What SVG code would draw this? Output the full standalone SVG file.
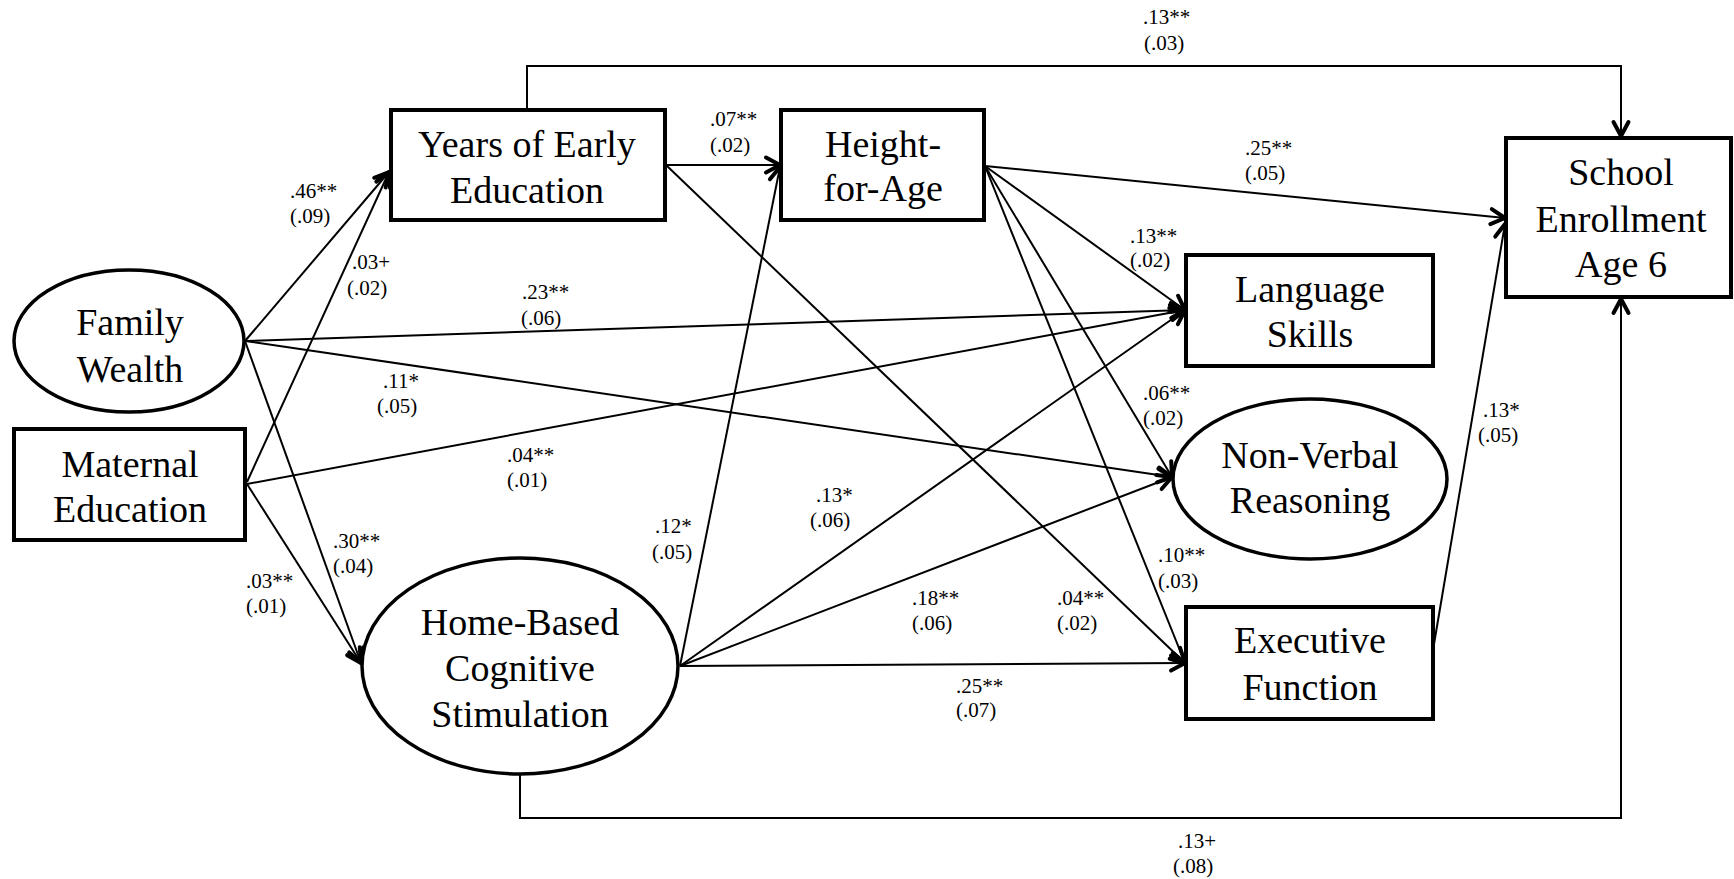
<svg xmlns="http://www.w3.org/2000/svg" width="1734" height="879" viewBox="0 0 1734 879">
<defs>
<marker id="arr" markerWidth="20" markerHeight="20" refX="16" refY="9" orient="auto" markerUnits="userSpaceOnUse" overflow="visible">
<path d="M2,1.5 L16,9 L2,16.5" fill="none" stroke="#000" stroke-width="4" stroke-linecap="round" stroke-linejoin="round"/>
</marker>
</defs>
<style>
.box{fill:#fff;stroke:#000;stroke-width:4}
.ell{fill:#fff;stroke:#000;stroke-width:3.5}
.nt{font-family:"Liberation Serif","Times New Roman",serif;font-size:38px;fill:#000;text-anchor:middle}
.lb{font-family:"Liberation Serif","Times New Roman",serif;font-size:21px;fill:#000}
.cn{fill:none;stroke:#000;stroke-width:2;marker-end:url(#arr)}
</style>
<rect x="0" y="0" width="1734" height="879" fill="#fff"/>
<g id="connectors">
<path class="cn" d="M527,110 V66 H1621 V136"/>
<path class="cn" d="M245,341 L389,172"/>
<path class="cn" d="M247,482 L389,172"/>
<path class="cn" d="M245,341 L1185,310"/>
<path class="cn" d="M245,341 L1172,477"/>
<path class="cn" d="M245,341 L361,663"/>
<path class="cn" d="M247,484 L361,663"/>
<path class="cn" d="M247,484 L1185,310"/>
<path class="cn" d="M666,165 L780,165"/>
<path class="cn" d="M666,165 L1185,663"/>
<path class="cn" d="M985,166 L1505,218"/>
<path class="cn" d="M985,166 L1185,310"/>
<path class="cn" d="M985,166 L1172,477"/>
<path class="cn" d="M985,166 L1185,663"/>
<path class="cn" d="M680,666 L780,167"/>
<path class="cn" d="M680,666 L1185,310"/>
<path class="cn" d="M680,666 L1172,477"/>
<path class="cn" d="M680,666 L1185,663"/>
<path class="cn" d="M520,775 V818 H1621 V299"/>
<path class="cn" d="M1433,650 L1505,224"/>
</g>
<g id="years-early-education">
<rect class="box" x="391" y="110" width="274" height="110"/>
<text class="nt" x="527" y="157">Years of Early</text>
<text class="nt" x="527" y="203">Education</text>
</g>
<g id="height-for-age">
<rect class="box" x="781" y="110" width="203" height="110"/>
<text class="nt" x="883" y="157">Height-</text>
<text class="nt" x="883" y="201">for-Age</text>
</g>
<g id="school-enrollment">
<rect class="box" x="1506" y="138" width="225" height="159"/>
<text class="nt" x="1621" y="185">School</text>
<text class="nt" x="1621" y="232">Enrollment</text>
<text class="nt" x="1621" y="277">Age 6</text>
</g>
<g id="language-skills">
<rect class="box" x="1186" y="255" width="247" height="111"/>
<text class="nt" x="1310" y="302">Language</text>
<text class="nt" x="1310" y="347">Skills</text>
</g>
<g id="non-verbal-reasoning">
<ellipse class="ell" cx="1310" cy="479" rx="137" ry="80"/>
<text class="nt" x="1310" y="468">Non-Verbal</text>
<text class="nt" x="1310" y="513">Reasoning</text>
</g>
<g id="executive-function">
<rect class="box" x="1186" y="607" width="247" height="112"/>
<text class="nt" x="1310" y="653">Executive</text>
<text class="nt" x="1310" y="700">Function</text>
</g>
<g id="family-wealth">
<ellipse class="ell" cx="129" cy="341" rx="115" ry="71"/>
<text class="nt" x="130" y="335">Family</text>
<text class="nt" x="130" y="382">Wealth</text>
</g>
<g id="maternal-education">
<rect class="box" x="14" y="429" width="231" height="111"/>
<text class="nt" x="130" y="477">Maternal</text>
<text class="nt" x="130" y="522">Education</text>
</g>
<g id="home-based-cognitive-stimulation">
<ellipse class="ell" cx="520" cy="666" rx="158" ry="108"/>
<text class="nt" x="520" y="635">Home-Based</text>
<text class="nt" x="520" y="681">Cognitive</text>
<text class="nt" x="520" y="727">Stimulation</text>
</g>
<g id="labels">
<text class="lb" x="1143" y="24">.13**</text><text class="lb" x="1144" y="50">(.03)</text>
<text class="lb" x="290" y="198">.46**</text><text class="lb" x="290" y="223">(.09)</text>
<text class="lb" x="352" y="269">.03+</text><text class="lb" x="347" y="295">(.02)</text>
<text class="lb" x="522" y="299">.23**</text><text class="lb" x="521" y="325">(.06)</text>
<text class="lb" x="383" y="388">.11*</text><text class="lb" x="377" y="413">(.05)</text>
<text class="lb" x="710" y="126">.07**</text><text class="lb" x="710" y="152">(.02)</text>
<text class="lb" x="1130" y="243">.13**</text><text class="lb" x="1130" y="267">(.02)</text>
<text class="lb" x="1143" y="400">.06**</text><text class="lb" x="1143" y="425">(.02)</text>
<text class="lb" x="1245" y="155">.25**</text><text class="lb" x="1245" y="180">(.05)</text>
<text class="lb" x="507" y="462">.04**</text><text class="lb" x="507" y="487">(.01)</text>
<text class="lb" x="333" y="548">.30**</text><text class="lb" x="333" y="573">(.04)</text>
<text class="lb" x="246" y="588">.03**</text><text class="lb" x="246" y="613">(.01)</text>
<text class="lb" x="655" y="533">.12*</text><text class="lb" x="652" y="559">(.05)</text>
<text class="lb" x="816" y="502">.13*</text><text class="lb" x="810" y="527">(.06)</text>
<text class="lb" x="912" y="605">.18**</text><text class="lb" x="912" y="630">(.06)</text>
<text class="lb" x="1057" y="605">.04**</text><text class="lb" x="1057" y="630">(.02)</text>
<text class="lb" x="956" y="693">.25**</text><text class="lb" x="956" y="717">(.07)</text>
<text class="lb" x="1158" y="562">.10**</text><text class="lb" x="1158" y="588">(.03)</text>
<text class="lb" x="1483" y="417">.13*</text><text class="lb" x="1478" y="442">(.05)</text>
<text class="lb" x="1178" y="848">.13+</text><text class="lb" x="1173" y="873">(.08)</text>
</g>
</svg>
